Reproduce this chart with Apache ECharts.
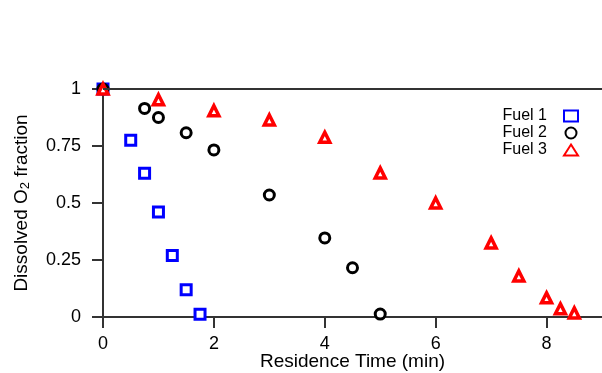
<!DOCTYPE html>
<html>
<head>
<meta charset="utf-8">
<script src="https://cdn.jsdelivr.net/npm/echarts@6/dist/echarts.min.js"></script>
<style>
  html, body { margin: 0; padding: 0; background: #fff; }
  #chart { width: 602px; height: 373px; }
</style>
</head>
<body>
<div id="chart"></div>
<script>
// values
const fuel1 = [[0, 1.0], [0.5, 0.775], [0.75, 0.63], [1.0, 0.46], [1.25, 0.27], [1.5, 0.12], [1.75, 0.012]];
const fuel2 = [[0, 1.0], [0.75, 0.915], [1.0, 0.875], [1.5, 0.808], [2.0, 0.733], [3.0, 0.535], [4.0, 0.347], [4.5, 0.216], [5.0, 0.013]];
const fuel3 = [[0, 1.0], [1.0, 0.953], [2.0, 0.905], [3.0, 0.864], [4.0, 0.788], [5.0, 0.632], [6.0, 0.5], [7.0, 0.325], [7.5, 0.18], [8.0, 0.084], [8.25, 0.036], [8.5, 0.018]];
const seriesNames = ['Fuel 1', 'Fuel 2', 'Fuel 3'];

const FONT = 'Liberation Sans';
const AXIS_COLOR = '#333';
const FS = 18;
const NAME_FS = 19;

const chart = echarts.init(document.getElementById('chart'));

const markerSeries = (name, data, symbol, size, color, bw) => ({
  name,
  type: 'scatter',
  data,
  symbol,
  symbolSize: size,
  clip: false,
  itemStyle: { color: '#fff', borderColor: color, borderWidth: bw, opacity: 1 },
  emphasis: { disabled: true },
});

const series = [
  markerSeries(seriesNames[0], fuel1, 'rect', 10, '#0000ff', 3),
  markerSeries(seriesNames[1], fuel2, 'circle', 10, '#000', 3),
  markerSeries(seriesNames[2], fuel3, 'triangle', 10, '#ff0000', 3.5),
];
// top frame line at y = 1
series[0].markLine = {
  silent: true,
  symbol: 'none',
  label: { show: false },
  lineStyle: { color: AXIS_COLOR, width: 2, type: 'solid' },
  data: [{ yAxis: 1 }],
};
series[0].z = 1;

chart.setOption({
  animation: false,
  textStyle: { fontFamily: FONT },
  grid: { left: 103, top: 89, right: 0, bottom: 56, outerBoundsMode: 'none' },
  legend: {
    right: 18,
    top: 103,
    orient: 'vertical',
    align: 'right',
    itemGap: 1,
    itemWidth: 14,
    itemHeight: 11,
    textStyle: { fontFamily: FONT, fontSize: 16, color: '#000', padding: [0, 12, 0, 0] },
    data: seriesNames,
  },
  xAxis: {
    type: 'value',
    min: 0,
    max: 9,
    interval: 2,
    name: 'Residence Time (min)',
    nameLocation: 'middle',
    nameGap: 35,
    nameMoveOverlap: false,
    nameTextStyle: { fontFamily: FONT, fontSize: NAME_FS, color: '#000' },
    axisLine: { onZero: false, lineStyle: { color: AXIS_COLOR, width: 2 } },
    axisTick: { length: 11, lineStyle: { color: AXIS_COLOR, width: 2 } },
    axisLabel: {
      fontFamily: FONT, fontSize: FS, color: '#000', margin: 18,
      showMaxLabel: false,
      formatter: v => (v % 2 === 0 ? String(v) : ''),
    },
    splitLine: { show: false },
  },
  yAxis: {
    type: 'value',
    min: 0,
    max: 1,
    interval: 0.25,
    name: 'Dissolved O{sub|2} fraction',
    nameLocation: 'middle',
    nameGap: 71,
    nameMoveOverlap: false,
    nameTextStyle: {
      fontFamily: FONT, fontSize: NAME_FS, color: '#000',
      rich: { sub: { fontFamily: FONT, fontSize: 13, color: '#000', verticalAlign: 'bottom', padding: [7, 0, 0, 0] } },
    },
    axisLine: { show: true, onZero: false, lineStyle: { color: AXIS_COLOR, width: 2 } },
    axisTick: { show: true, length: 11, lineStyle: { color: AXIS_COLOR, width: 2 } },
    axisLabel: { fontFamily: FONT, fontSize: FS, color: '#000', margin: 22, padding: [7, 0, 0, 0] },
    splitLine: { show: false },
  },
  series,
});
</script>
</body>
</html>
